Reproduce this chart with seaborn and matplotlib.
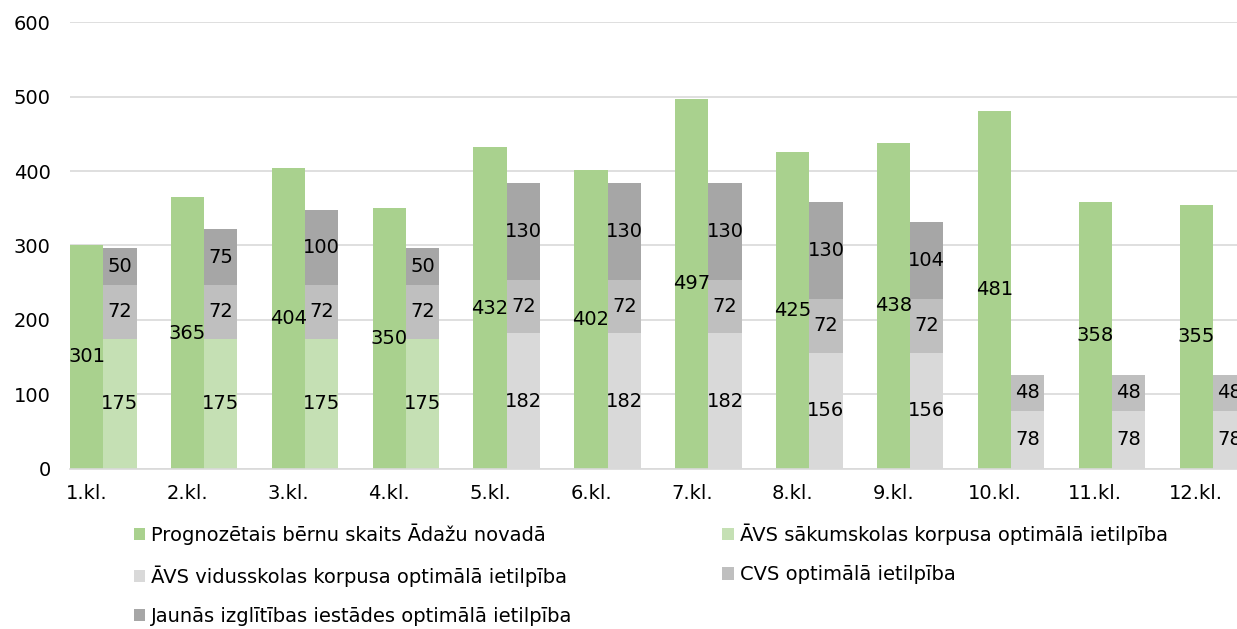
import matplotlib
matplotlib.use('Agg')
import matplotlib.pyplot as plt
import numpy as np
import seaborn as sns

# data
classes = ['1.kl.', '2.kl.', '3.kl.', '4.kl.', '5.kl.', '6.kl.',
           '7.kl.', '8.kl.', '9.kl.', '10.kl.', '11.kl.', '12.kl.']
forecast = [301, 365, 404, 350, 432, 402, 497, 425, 438, 481, 358, 355]
avs_sakum = [175, 175, 175, 175, 0, 0, 0, 0, 0, 0, 0, 0]
avs_vidus = [0, 0, 0, 0, 182, 182, 182, 156, 156, 78, 78, 78]
cvs = [72, 72, 72, 72, 72, 72, 72, 72, 72, 48, 48, 48]
jauna = [50, 75, 100, 50, 130, 130, 130, 130, 104, 0, 0, 0]

names = ['Prognozētais bērnu skaits Ādažu novadā',
         'ĀVS sākumskolas korpusa optimālā ietilpība',
         'ĀVS vidusskolas korpusa optimālā ietilpība',
         'CVS optimālā ietilpība',
         'Jaunās izglītības iestādes optimālā ietilpība']
colors = ['#a9d18e', '#c5e0b4', '#d9d9d9', '#bfbfbf', '#a6a6a6']

sns.set_theme(style='white')
plt.rcParams['font.family'] = ['DejaVu Sans']

fig = plt.figure(figsize=(12.37, 6.29), dpi=100)
ax = fig.add_axes([0.0566, 0.2544, 0.9434, 0.7106])

x = np.arange(len(classes))
w = 0.33
fs = 14

handles = []
h = ax.bar(x - w / 2, forecast, width=w, color=colors[0], linewidth=0, zorder=2)
handles.append(h)
for xi, v in zip(x, forecast):
    ax.text(xi - w / 2, v / 2, str(v), ha='center', va='center',
            fontsize=fs, color='#000000', zorder=3)

bottom = np.zeros(len(classes))
for vals, col in zip([avs_sakum, avs_vidus, cvs, jauna], colors[1:]):
    vals = np.array(vals)
    h = ax.bar(x + w / 2, vals, width=w, bottom=bottom, color=col,
               linewidth=0, zorder=2)
    handles.append(h)
    for xi, b, v in zip(x, bottom, vals):
        if v > 0:
            ax.text(xi + w / 2, b + v / 2, str(v), ha='center', va='center',
                    fontsize=fs, color='#000000', zorder=3)
    bottom = bottom + vals

ax.set_xlim(-0.33, 11.24)
ax.set_ylim(0, 600)
ax.set_yticks(np.arange(0, 601, 100))
ax.set_xticks(x - w / 2)
ax.set_xticklabels(classes)
ax.tick_params(axis='both', length=0, labelsize=fs, colors='#000000')
ax.tick_params(axis='y', pad=14)
ax.tick_params(axis='x', pad=11)
ax.yaxis.grid(True, color='#d9d9d9', linewidth=1.2, zorder=0)
ax.set_axisbelow(True)
for s in ['top', 'right', 'left']:
    ax.spines[s].set_visible(False)
ax.spines['bottom'].set_color('#d9d9d9')
ax.spines['bottom'].set_linewidth(1.2)

order = [0, 2, 4, 1, 3]
fig.legend([handles[i] for i in order], [names[i] for i in order],
           loc='upper left', bbox_to_anchor=(0.108, 0.168), ncol=2,
           frameon=False, fontsize=fs, handlelength=0.6, handleheight=0.6,
           handletextpad=0.3, columnspacing=7.7, labelspacing=1.05,
           borderaxespad=0, borderpad=0, labelcolor='#000000')

fig.savefig('out.png', dpi=100)
